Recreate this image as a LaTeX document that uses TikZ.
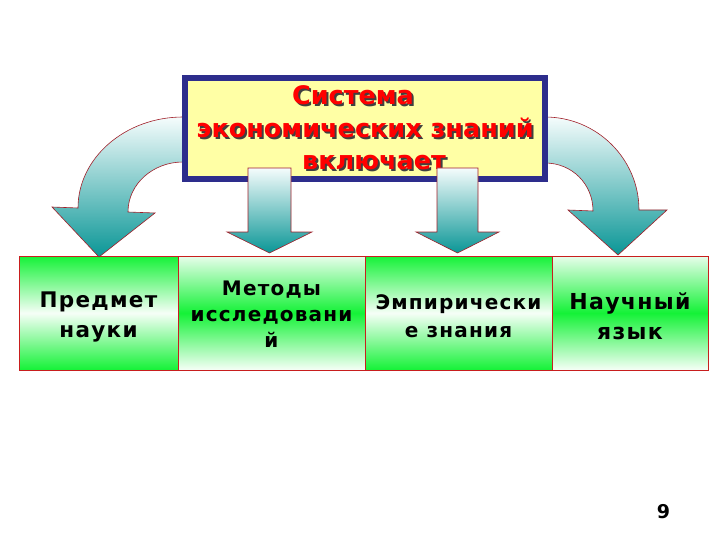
\documentclass[tikz,border=0pt]{standalone}
\usepackage{fontspec}
\setmainfont{DejaVu Sans}
\newfontfamily\spacedfont[LetterSpace=6]{DejaVu Sans}
\usepackage{tikz}

\definecolor{boxgreen}{RGB}{20,242,55}
\definecolor{boxred}{RGB}{200,30,30}
\definecolor{titlenavy}{RGB}{45,45,140}
\definecolor{titlefill}{RGB}{255,255,165}
\definecolor{arrowtop}{RGB}{245,252,252}
\definecolor{arrowteal}{RGB}{10,150,150}
\definecolor{arrowedge}{RGB}{160,30,40}

\pgfdeclareverticalshading{gwg}{100bp}{color(0bp)=(boxgreen); color(25bp)=(boxgreen);
  color(50bp)=(boxgreen!4); color(75bp)=(boxgreen); color(100bp)=(boxgreen)}
\pgfdeclareverticalshading{wgw}{100bp}{color(0bp)=(boxgreen!4); color(25bp)=(boxgreen!4);
  color(50bp)=(boxgreen); color(75bp)=(boxgreen!10); color(100bp)=(boxgreen!10)}

\begin{document}
\begin{tikzpicture}[
  x=1pt, y=-1pt,
  box/.style={rectangle, draw=boxred, line width=0.8pt, minimum height=114pt,
    inner sep=0pt, outer sep=0pt, align=center},
  greenmid/.style={box, shade, shading=gwg},
  whitemid/.style={box, shade, shading=wgw},
  boxtext/.style={align=center, inner sep=0pt},
  blockarrow/.style={draw=arrowedge, line width=0.6pt, top color=arrowtop,
    bottom color=arrowteal},
  titletext/.style={align=center, inner sep=0pt,
    font=\fontsize{25.5}{32.5}\selectfont\bfseries}
]
\useasboundingbox (0,0) rectangle (720,540);

% boxes in the row
\node[greenmid, minimum width=159pt] (subject) at (98.5,313) {};
\node[whitemid, minimum width=187pt] (methods) at (271.5,313) {};
\node[greenmid, minimum width=187pt] (empiric) at (458.5,313) {};
\node[whitemid, minimum width=156pt] (language) at (630,313) {};

\node[boxtext, font=\spacedfont\bfseries\fontsize{21.5}{30}\selectfont]
  (subjecttext) at (98.5,317) {Предмет\\науки};
\node[boxtext, font=\spacedfont\bfseries\fontsize{20}{26}\selectfont]
  (methodstext) at (271.5,314) {Методы\\исследовани\\й};
\node[boxtext, font=\spacedfont\bfseries\fontsize{20}{28}\selectfont]
  (empirictext) at (458.5,316) {Эмпирически\\е знания};
\node[boxtext, font=\spacedfont\bfseries\fontsize{22}{30}\selectfont]
  (languagetext) at (630,316) {Научный\\язык};

% curved arrows
\path[blockarrow] (183,117) .. controls (125,117) and (78,158) .. (78,208)
  -- (52,207) -- (99,257) -- (155,213) -- (128,212)
  .. controls (128,184) and (153,162) .. (183,162) -- cycle;
\path[blockarrow] (545,117) .. controls (597,117) and (639,159) .. (639,210)
  -- (667,210) -- (618,255) -- (568,210) -- (593,211)
  .. controls (593,184) and (572,163) .. (545,163) -- cycle;

% title box
\node[draw=titlenavy, line width=6pt, fill=titlefill, minimum width=360pt,
  minimum height=101pt, inner sep=0pt] (titlebox) at (365,128.5) {};
\node[titletext, text=black!75] (titleshadow) at (367,130)
  {Система\hspace*{24pt}\\экономических знаний\\\hspace*{18pt}включает};
\node[titletext, text=red] (title) at (365,128)
  {Система\hspace*{24pt}\\экономических знаний\\\hspace*{18pt}включает};

% straight arrows
\path[blockarrow] (248,168) -- (291,168) -- (291,232) -- (312,232) -- (269.5,253)
  -- (227,232) -- (248,232) -- cycle;
\path[blockarrow] (437,168) -- (478,168) -- (478,232) -- (499,232) -- (457.5,253)
  -- (416,232) -- (437,232) -- cycle;

\node[font=\fontsize{19}{22}\selectfont\bfseries] (pagenum) at (663.5,512) {9};
\end{tikzpicture}
\end{document}
